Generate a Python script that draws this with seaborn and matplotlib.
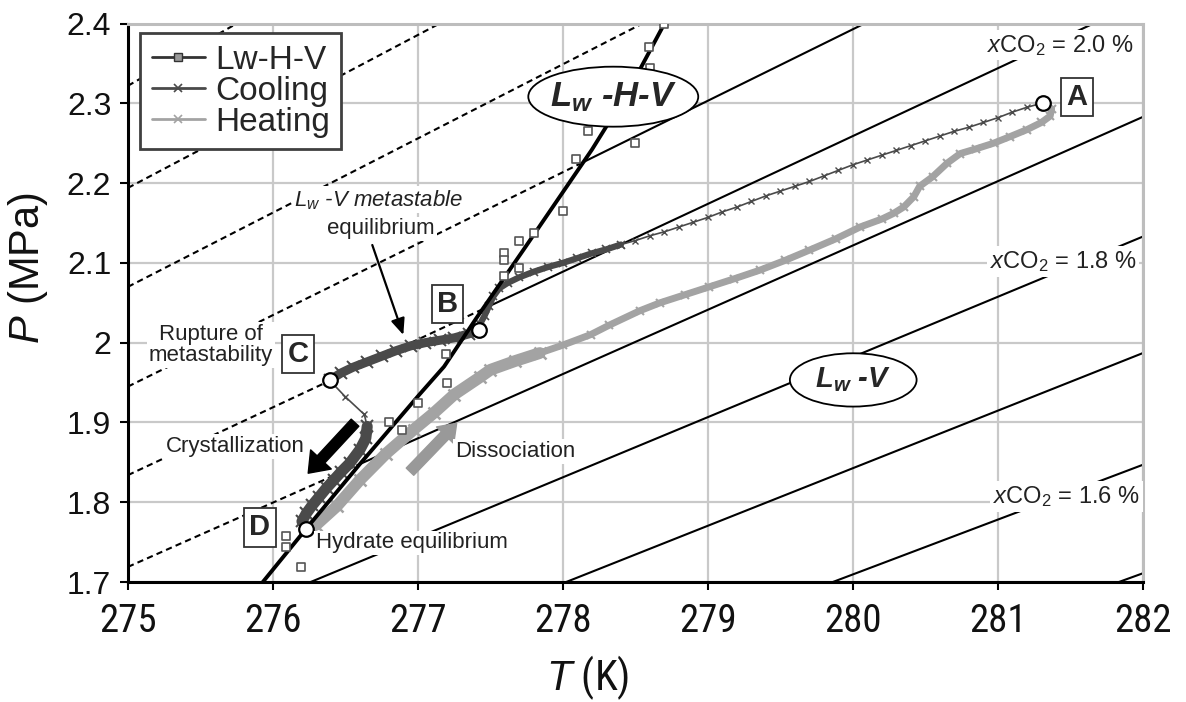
import numpy as np
import pandas as pd
import matplotlib
matplotlib.use("Agg")
import matplotlib.pyplot as plt
import seaborn as sns
from matplotlib import font_manager as fm
from matplotlib.patches import Ellipse
from matplotlib.lines import Line2D
from matplotlib.ticker import FuncFormatter

# ---------------------------------------------------------------- data
# Lw-H-V hydrate equilibrium curve (T in K, P in MPa)
lhv_T = [275.93, 276.23, 276.60, 277.01, 277.18, 277.40, 277.73, 278.20, 278.45, 278.70]
lhv_P = [1.700, 1.767, 1.848, 1.935, 1.970, 2.030, 2.117, 2.242, 2.315, 2.400]

# Lw-H-V experimental points
sq_T = [278.70, 278.59, 278.60, 278.17, 278.09, 278.50, 278.00, 277.80, 277.70, 277.59,
        277.59, 277.70, 277.59, 277.19, 277.20, 277.00, 276.80, 276.89, 276.09, 276.09, 276.19]
sq_P = [2.399, 2.371, 2.344, 2.265, 2.230, 2.250, 2.165, 2.137, 2.128, 2.112,
        2.104, 2.093, 2.083, 1.986, 1.949, 1.925, 1.900, 1.890, 1.758, 1.744, 1.719]

# Lw-V isopleths: CO2 content and pressure at T = 275 K and T = 282 K
xco2_levels = [2.4, 2.3, 2.2, 2.1, 2.0, 1.9, 1.8, 1.7, 1.6, 1.5]
iso_P275 = [2.322, 2.194, 2.070, 1.945, 1.834, 1.719, 1.605, 1.482, 1.366, 1.249]
iso_P282 = [3.050, 2.865, 2.721, 2.572, 2.429, 2.283, 2.133, 1.987, 1.847, 1.711]

# Cooling run, A -> B (Lw-V equilibrium)
cool_T = [281.30, 281.20, 281.10, 281.00, 280.90, 280.80, 280.70, 280.60, 280.50, 280.40,
          280.30, 280.20, 280.10, 280.00, 279.90, 279.80, 279.70, 279.60, 279.50, 279.40,
          279.30, 279.20, 279.10, 279.00, 278.90, 278.80, 278.70, 278.60, 278.50, 278.40]
cool_P = [2.300, 2.295, 2.289, 2.282, 2.276, 2.270, 2.265, 2.259, 2.253, 2.247,
          2.241, 2.235, 2.229, 2.223, 2.216, 2.209, 2.202, 2.196, 2.190, 2.184,
          2.177, 2.170, 2.164, 2.157, 2.151, 2.145, 2.139, 2.134, 2.128, 2.123]

# Cooling run, dense part: around B and metastable branch B -> C
meta_T = [278.40, 278.30, 278.20, 278.10, 278.00, 277.90, 277.80, 277.70, 277.62, 277.56,
          277.52, 277.49, 277.46, 277.43, 277.42, 277.35, 277.25, 277.15, 277.05, 276.95,
          276.85, 276.75, 276.65, 276.55, 276.47, 276.39]
meta_P = [2.123, 2.117, 2.112, 2.106, 2.100, 2.095, 2.089, 2.082, 2.075, 2.068,
          2.058, 2.046, 2.034, 2.024, 2.016, 2.011, 2.006, 2.003, 2.000, 1.996,
          1.990, 1.983, 1.976, 1.969, 1.962, 1.953]

# Crystallization C -> D
cryst_thin_T = [276.39, 276.50, 276.63, 276.65]
cryst_thin_P = [1.953, 1.932, 1.910, 1.895]
cryst_T = [276.65, 276.64, 276.60, 276.53, 276.47, 276.42, 276.37, 276.32, 276.27, 276.23, 276.20]
cryst_P = [1.895, 1.880, 1.866, 1.849, 1.838, 1.828, 1.818, 1.807, 1.796, 1.786, 1.776]

# Heating run D -> A
heat_T = [276.23, 276.30, 276.44, 276.60, 276.78, 276.97, 277.11, 277.25, 277.43, 277.50,
          277.67, 277.84, 278.00, 278.19, 278.32, 278.53, 278.67, 278.84, 279.01, 279.18,
          279.36, 279.53, 279.70, 279.88, 280.05, 280.20, 280.28, 280.35, 280.42, 280.46,
          280.55, 280.65, 280.74, 280.85, 280.97, 281.08, 281.20, 281.30, 281.36, 281.37, 281.32]
heat_P = [1.767, 1.772, 1.795, 1.828, 1.861, 1.891, 1.912, 1.935, 1.957, 1.966,
          1.977, 1.987, 1.997, 2.010, 2.022, 2.040, 2.050, 2.060, 2.070, 2.080,
          2.091, 2.103, 2.116, 2.130, 2.145, 2.155, 2.162, 2.170, 2.183, 2.196,
          2.208, 2.225, 2.237, 2.243, 2.250, 2.258, 2.267, 2.276, 2.284, 2.293, 2.300]

# Key states A, B, C, D
state_names = ["A", "B", "C", "D"]
state_T = [281.31, 277.42, 276.39, 276.23]
state_P = [2.301, 2.016, 1.953, 1.767]
state_box_T = [281.545, 277.203, 276.172, 275.910]
state_box_P = [2.308, 2.0485, 1.9858, 1.7684]

x_ticks = [275, 276, 277, 278, 279, 280, 281, 282]
y_ticks = [1.7, 1.8, 1.9, 2.0, 2.1, 2.2, 2.3, 2.4]

# ---------------------------------------------------------------- style
sns.set_theme(style="ticks")
plt.rcParams["font.family"] = ["Liberation Sans", "DejaVu Sans"]
plt.rcParams.update({
    "mathtext.fontset": "custom",
    "mathtext.rm": "Liberation Sans",
    "mathtext.it": "Liberation Sans:italic",
    "mathtext.bf": "Liberation Sans:bold:italic",
})

available = {f.name for f in fm.fontManager.ttflist}
narrow_name = next((n for n in ["Liberation Sans Narrow", "Roboto Condensed",
                                "DejaVu Sans Condensed", "Open Sans Condensed"]
                    if n in available), None)
if narrow_name:
    narrow_tick = fm.FontProperties(family=narrow_name, size=28)
    narrow_lab = fm.FontProperties(family=narrow_name, size=30)
else:
    narrow_tick = fm.FontProperties(family="DejaVu Sans", stretch="condensed", size=26)
    narrow_lab = fm.FontProperties(family="DejaVu Sans", stretch="condensed", size=28)

COOL = "#4a4a4a"
HEAT = "#a3a3a3"
GRID = "#c9c9c9"

fig = plt.figure(figsize=(11.86, 7.02), dpi=100)
ax = fig.add_axes([0.1079, 0.1709, 0.8558, 0.7956])
ax.set_xlim(275, 282)
ax.set_ylim(1.7, 2.4)


def draw_path(T, P, **kw):
    df = pd.DataFrame({"T": T, "P": P})
    sns.lineplot(data=df, x="T", y="P", sort=False, estimator=None,
                 legend=False, ax=ax, **kw)


# ---------------------------------------------------------------- isopleths
lhv_Ta = np.asarray(lhv_T)
lhv_Pa = np.asarray(lhv_P)


def lhv_at(T):
    T = np.asarray(T, dtype=float)
    P = np.interp(T, lhv_Ta, lhv_Pa)
    s0 = (lhv_Pa[1] - lhv_Pa[0]) / (lhv_Ta[1] - lhv_Ta[0])
    s1 = (lhv_Pa[-1] - lhv_Pa[-2]) / (lhv_Ta[-1] - lhv_Ta[-2])
    P = np.where(T < lhv_Ta[0], lhv_Pa[0] + s0 * (T - lhv_Ta[0]), P)
    P = np.where(T > lhv_Ta[-1], lhv_Pa[-1] + s1 * (T - lhv_Ta[-1]), P)
    return P


tt = np.linspace(270, 290, 40001)
for p0, p1 in zip(iso_P275, iso_P282):
    iso = p0 + (p1 - p0) * (tt - 275) / 7
    diff = iso - lhv_at(tt)
    k = np.where(np.diff(np.sign(diff)) != 0)[0][0]
    tc = tt[k]
    pc = p0 + (p1 - p0) * (tc - 275) / 7
    # metastable part (left of the hydrate curve) dashed, stable part solid
    draw_path([275, tc], [p0, pc], color="black", linewidth=1.5,
              linestyle=(0, (3, 2)), zorder=2)
    draw_path([tc, 282], [pc, p1], color="black", linewidth=1.5, zorder=2)

# ---------------------------------------------------------------- runs
draw_path(heat_T, heat_P, color=HEAT, linewidth=5, marker="x", markersize=6,
          markeredgecolor=HEAT, markeredgewidth=1.5, zorder=3)
draw_path(heat_T[:12], heat_P[:12], color=HEAT, linewidth=8.5, marker="x",
          markersize=9, markeredgecolor=HEAT, markeredgewidth=1.8, zorder=3)
draw_path(cool_T, cool_P, color=COOL, linewidth=1.2, marker="x", markersize=5,
          markeredgecolor=COOL, markeredgewidth=1.0, zorder=4)
draw_path(meta_T, meta_P, color=COOL, linewidth=4.5, marker="x", markersize=6,
          markeredgecolor=COOL, markeredgewidth=1.2, zorder=4)
draw_path(meta_T[14:], meta_P[14:], color=COOL, linewidth=6.5, marker="x", markersize=8,
          markeredgecolor=COOL, markeredgewidth=1.4, zorder=4)
draw_path(cryst_thin_T, cryst_thin_P, color=COOL, linewidth=1.2, marker="x",
          markersize=5, markeredgecolor=COOL, markeredgewidth=1.0, zorder=4)
draw_path(cryst_T, cryst_P, color=COOL, linewidth=8, marker="x", markersize=8,
          markeredgecolor=COOL, markeredgewidth=1.5, zorder=4)

# hydrate equilibrium curve and measured points
draw_path(lhv_T, lhv_P, color="black", linewidth=2.8, zorder=5)
sns.scatterplot(x=sq_T, y=sq_P, marker="s", s=34, facecolor="white",
                edgecolor="#555555", linewidth=1.2, zorder=6, ax=ax, legend=False)

# key states
sns.scatterplot(x=state_T, y=state_P, marker="o", s=110, facecolor="white",
                edgecolor="black", linewidth=1.6, zorder=9, ax=ax, legend=False)
for name, bt, bp in zip(state_names, state_box_T, state_box_P):
    ax.text(bt, bp, name, ha="center", va="center", fontsize=21, fontweight="bold",
            zorder=12, bbox=dict(boxstyle="square,pad=0.18", fc="white",
                                 ec="#333333", lw=1.3))

# ---------------------------------------------------------------- arrows
ax.annotate("", xy=(276.243, 1.8364), xytext=(276.566, 1.8997),
            arrowprops=dict(arrowstyle="simple,head_length=0.9,head_width=1.35,tail_width=0.5",
                            mutation_scale=15, fc="black", ec="black",
                            shrinkA=0, shrinkB=0), zorder=7)
ax.annotate("", xy=(277.267, 1.899), xytext=(276.945, 1.8383),
            arrowprops=dict(arrowstyle="simple,head_length=0.8,head_width=1.15,tail_width=0.5",
                            mutation_scale=15, fc="#999999", ec="#999999",
                            shrinkA=0, shrinkB=0), zorder=7)
ax.annotate("", xy=(276.899, 2.0097), xytext=(276.685, 2.1224),
            arrowprops=dict(arrowstyle="-|>,head_length=0.7,head_width=0.3",
                            mutation_scale=14, color="black", lw=1.6,
                            shrinkA=0, shrinkB=0), zorder=7)

# ---------------------------------------------------------------- labels
white = dict(boxstyle="square,pad=0.08", fc="white", ec="none")
ax.text(276.731, 2.179, "L$_w$ -V metastable", fontsize=16, fontstyle="italic",
        ha="center", va="center", color="#222222", zorder=10, bbox=white)
ax.text(276.745, 2.1425, "equilibrium", fontsize=16, ha="center", va="center",
        color="#222222", zorder=10, bbox=white)
ax.text(275.572, 1.997, "Rupture of\nmetastability", fontsize=16, ha="center",
        va="center", linespacing=1.05, color="#222222", zorder=10, bbox=white)
ax.text(275.738, 1.870, "Crystallization", fontsize=16, ha="center", va="center",
        color="#222222", zorder=10, bbox=white)
ax.text(277.669, 1.8637, "Dissociation", fontsize=16, ha="center", va="center",
        color="#222222", zorder=10, bbox=white)
ax.text(276.959, 1.749, "Hydrate equilibrium", fontsize=16, ha="center",
        va="center", color="#222222", zorder=10, bbox=white)

for pct, lt, lp in [("2.0", 281.434, 2.3647), ("1.8", 281.45, 2.0932), ("1.6", 281.474, 1.7987)]:
    ax.text(lt, lp, "$x$CO$_2$ = " + pct + " %", fontsize=17, ha="center",
            va="baseline", color="#222222", zorder=10,
            bbox=dict(boxstyle="square,pad=0.12", fc="white", ec="none"))

for (ct, cp, w, h, txt, fs) in [(278.347, 2.3083, 1.172, 0.0752, "L$_{\\mathbf{w}}$ -H-V", 25),
                                (280.002, 1.9533, 0.874, 0.0668, "L$_{\\mathbf{w}}$ -V", 21)]:
    ax.add_patch(Ellipse((ct, cp), w, h, fc="white", ec="black", lw=1.3, zorder=11))
    ax.text(ct, cp, txt, fontsize=fs, fontweight="bold", fontstyle="italic",
            ha="center", va="center", zorder=12)

# ---------------------------------------------------------------- axes
ax.set_xticks(x_ticks)
ax.set_yticks(y_ticks)
ax.yaxis.set_major_formatter(FuncFormatter(lambda v, _: f"{v:g}"))
ax.grid(True, color=GRID, linewidth=1.6)
ax.set_axisbelow(True)
for side in ["left", "bottom"]:
    ax.spines[side].set_color("black")
    ax.spines[side].set_linewidth(2.2)
for side in ["top", "right"]:
    ax.spines[side].set_color("#bdbdbd")
    ax.spines[side].set_linewidth(2.2)
    ax.spines[side].set_visible(True)
ax.tick_params(axis="both", direction="out", length=6, width=1.5, color="black")
ax.tick_params(axis="y", labelsize=23, pad=6, labelcolor="#111111")
ax.tick_params(axis="x", pad=9, labelcolor="#111111")
for lbl in ax.get_xticklabels():
    lbl.set_fontproperties(narrow_tick)

ax.set_xlabel("$T$ (K)", fontproperties=narrow_lab, color="#111111")
ax.xaxis.set_label_coords(0.453, -0.128)
ax.set_ylabel("$P$ (MPa)", fontsize=30, color="#111111")
ax.yaxis.set_label_coords(-0.077, 0.562)

# legend for the three series
handles = [
    Line2D([], [], color="#333333", lw=2, marker="s", ms=6, mfc="#999999", mec="#333333"),
    Line2D([], [], color=COOL, lw=2, marker="x", ms=6, mec=COOL, mew=1.2),
    Line2D([], [], color=HEAT, lw=2, marker="x", ms=6, mec=HEAT, mew=1.2),
]
leg = ax.legend(handles, ["Lw-H-V", "Cooling", "Heating"], loc="upper left",
                bbox_to_anchor=(0.0118, 0.983), borderaxespad=0, fontsize=24,
                frameon=True, fancybox=False, edgecolor="#404040", framealpha=1,
                handlelength=1.6, handletextpad=0.3, labelspacing=0.0,
                borderpad=0.35)
leg.get_frame().set_linewidth(2)
leg.set_zorder(20)

fig.savefig("out.png", dpi=100)
